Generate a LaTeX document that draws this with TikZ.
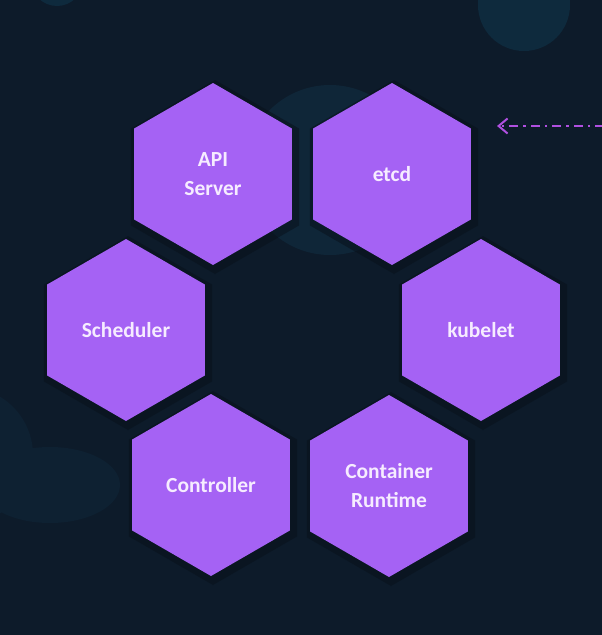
\documentclass[tikz,border=0pt]{standalone}
\usepackage{fontspec}
\setmainfont{Carlito}
\usetikzlibrary{shapes.geometric,arrows.meta}
\definecolor{bgnavy}{HTML}{0D1B2A}
\definecolor{bgcircle}{HTML}{0E2A3D}
\definecolor{bgcirclemid}{HTML}{0F2638}
\definecolor{bgcirclefaint}{HTML}{0E2132}
\definecolor{hexpurple}{HTML}{A562F4}
\definecolor{hextext}{HTML}{F6ECFF}
\definecolor{arrowpink}{HTML}{B050E0}
\definecolor{hexshadow}{HTML}{08111B}
\tikzset{
  hexnode/.style={regular polygon, regular polygon sides=6, shape border rotate=30,
    minimum size=182pt, inner sep=0pt, outer sep=0pt, fill=hexpurple,
    text=hextext, align=center, font=\fontsize{21.5}{29}\selectfont\bfseries},
  hexshade/.style={regular polygon, regular polygon sides=6, shape border rotate=30,
    minimum size=194pt, inner sep=0pt, fill=hexshadow, opacity=0.55},
  dasharrow/.style={draw=arrowpink, line width=2pt,
    dash pattern=on 9pt off 5pt on 2.5pt off 5pt,
    -{Straight Barb[length=9pt,width=15pt,line width=2pt]}}
}
\begin{document}
\begin{tikzpicture}[x=1pt,y=-1pt]
  \fill[bgnavy] (0,0) rectangle (602,635);
  \useasboundingbox (0,0) rectangle (602,635);
  % background circles
  \fill[bgcircle] (57,-20) circle (26);
  \fill[bgcircle] (524,5) circle (46);
  \fill[bgcirclemid] (330,170) circle (85);
  \fill[bgcirclefaint] (-35,455) circle (68);
  \fill[bgcirclefaint] (50,485) ellipse (70 and 38);
  % shadows
  \foreach \cx/\cy in {213/174,392/174,126/330,481/330,211/485,389/486}
    \node[hexshade] at (\cx+2,\cy+3) {};
  % hexagons
  \node[hexnode] (api) at (213,174) {API\\Server};
  \node[hexnode] (etcd) at (392,174) {etcd};
  \node[hexnode] (sched) at (126,330) {Scheduler};
  \node[hexnode] (kubelet) at (481,330) {kubelet};
  \node[hexnode] (ctrl) at (211,485) {Controller};
  \node[hexnode] (runtime) at (389,486) {Container\\Runtime};
  % arrow
  \coordinate (arrstart) at (604,126);
  \coordinate (arrend) at (497,126);
  \draw[dasharrow] (arrstart) -- (arrend);
\end{tikzpicture}
\end{document}
